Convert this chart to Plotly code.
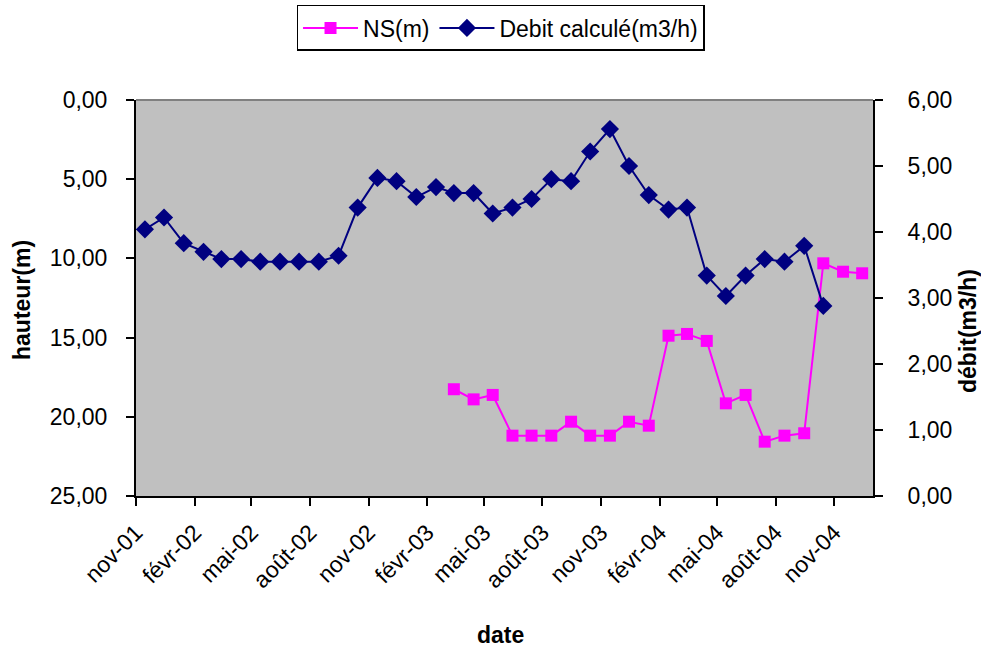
import plotly.graph_objects as go

# --- data ---------------------------------------------------------------
debit_dates = [
    "2001-11-15", "2001-12-15", "2002-01-15", "2002-02-15", "2002-03-15", "2002-04-15",
    "2002-05-15", "2002-06-15", "2002-07-15", "2002-08-15", "2002-09-15", "2002-10-15",
    "2002-11-15", "2002-12-15", "2003-01-15", "2003-02-15", "2003-03-15", "2003-04-15",
    "2003-05-15", "2003-06-15", "2003-07-15", "2003-08-15", "2003-09-15", "2003-10-15",
    "2003-11-15", "2003-12-15", "2004-01-15", "2004-02-15", "2004-03-15", "2004-04-15",
    "2004-05-15", "2004-06-15", "2004-07-15", "2004-08-15", "2004-09-15", "2004-10-15",
]
debit_values = [
    4.04, 4.22, 3.83, 3.70, 3.59, 3.59,
    3.55, 3.55, 3.55, 3.55, 3.64, 4.37,
    4.82, 4.77, 4.53, 4.68, 4.59, 4.59,
    4.28, 4.37, 4.50, 4.80, 4.77, 5.22,
    5.56, 5.00, 4.56, 4.34, 4.37, 3.34,
    3.03, 3.34, 3.59, 3.55, 3.79, 2.88,
]

ns_dates = [
    "2003-03-15", "2003-04-15", "2003-05-15", "2003-06-15", "2003-07-15", "2003-08-15",
    "2003-09-15", "2003-10-15", "2003-11-15", "2003-12-15", "2004-01-15", "2004-02-15",
    "2004-03-15", "2004-04-15", "2004-05-15", "2004-06-15", "2004-07-15", "2004-08-15",
    "2004-09-15", "2004-10-15", "2004-11-15", "2004-12-15",
]
ns_values = [
    18.26, 18.90, 18.62, 21.19, 21.19, 21.19,
    20.31, 21.19, 21.19, 20.31, 20.56, 14.88,
    14.77, 15.21, 19.15, 18.62, 21.57, 21.19,
    21.04, 10.31, 10.84, 10.94,
]

tick_dates = [
    "2001-11-01", "2002-02-01", "2002-05-01", "2002-08-01", "2002-11-01",
    "2003-02-01", "2003-05-01", "2003-08-01", "2003-11-01", "2004-02-01",
    "2004-05-01", "2004-08-01", "2004-11-01",
]
tick_labels = [
    "nov-01", "févr-02", "mai-02", "août-02", "nov-02", "févr-03", "mai-03",
    "août-03", "nov-03", "févr-04", "mai-04", "août-04", "nov-04",
]

# --- figure -------------------------------------------------------------
FONT = "Arial, Liberation Sans, sans-serif"
FS = 23

fig = go.Figure()
fig.add_trace(go.Scatter(
    x=ns_dates, y=ns_values, name="NS(m)", mode="lines+markers",
    line=dict(color="#FF00FF", width=2),
    marker=dict(symbol="square", size=12, color="#FF00FF"),
    yaxis="y",
))
fig.add_trace(go.Scatter(
    x=debit_dates, y=debit_values, name="Debit calculé(m3/h)", mode="lines+markers",
    line=dict(color="#000080", width=2),
    marker=dict(symbol="diamond", size=14, color="#000080"),
    yaxis="y2",
))

axis_common = dict(
    showgrid=False, zeroline=False, showline=True, linecolor="black", linewidth=2,
    ticks="outside", ticklen=8, tickcolor="black", tickwidth=1.5,
    tickfont=dict(family=FONT, size=FS, color="black"),
)

fig.update_layout(
    width=981, height=650,
    margin=dict(l=136, r=108, t=100, b=154, autoexpand=False),
    paper_bgcolor="white", plot_bgcolor="#C0C0C0",
    separators=",.",
    font=dict(family=FONT, size=FS, color="black"),
    xaxis=dict(
        type="date", range=["2001-11-01", "2005-01-01"],
        tickmode="array", tickvals=tick_dates, ticktext=tick_labels,
        tickangle=-45, ticklabelstandoff=4, **axis_common,
    ),
    yaxis=dict(
        range=[25, 0], tickmode="linear", tick0=0, dtick=5, tickformat=".2f",
        ticklabelstandoff=14, **axis_common,
    ),
    yaxis2=dict(
        range=[0, 6], tickmode="linear", tick0=0, dtick=1, tickformat=".2f",
        overlaying="y", side="right", ticklabelstandoff=20, **axis_common,
    ),
    legend=dict(
        orientation="h", x=0.4946, xanchor="center", y=1.24, yanchor="top",
        bgcolor="white", bordercolor="black", borderwidth=1.5,
        font=dict(family=FONT, size=FS, color="black"),
        itemwidth=55, tracegroupgap=0,
    ),
    shapes=[dict(type="line", xref="paper", yref="paper", x0=0, x1=1, y0=1, y1=1,
                 line=dict(color="#808080", width=2))],
    annotations=[
        dict(text="<b>hauteur(m)</b>", xref="paper", yref="paper", x=-0.1547, y=0.495,
             textangle=-90, showarrow=False, font=dict(family=FONT, size=FS),
             xanchor="center", yanchor="middle"),
        dict(text="<b>débit(m3/h)</b>", xref="paper", yref="paper", x=1.1289, y=0.4167,
             textangle=-90, showarrow=False, font=dict(family=FONT, size=FS),
             xanchor="center", yanchor="middle"),
        dict(text="<b>date</b>", xref="paper", yref="paper", x=0.494, y=-0.351,
             showarrow=False, font=dict(family=FONT, size=FS),
             xanchor="center", yanchor="middle"),
    ],
)

fig.write_html("out.html")
